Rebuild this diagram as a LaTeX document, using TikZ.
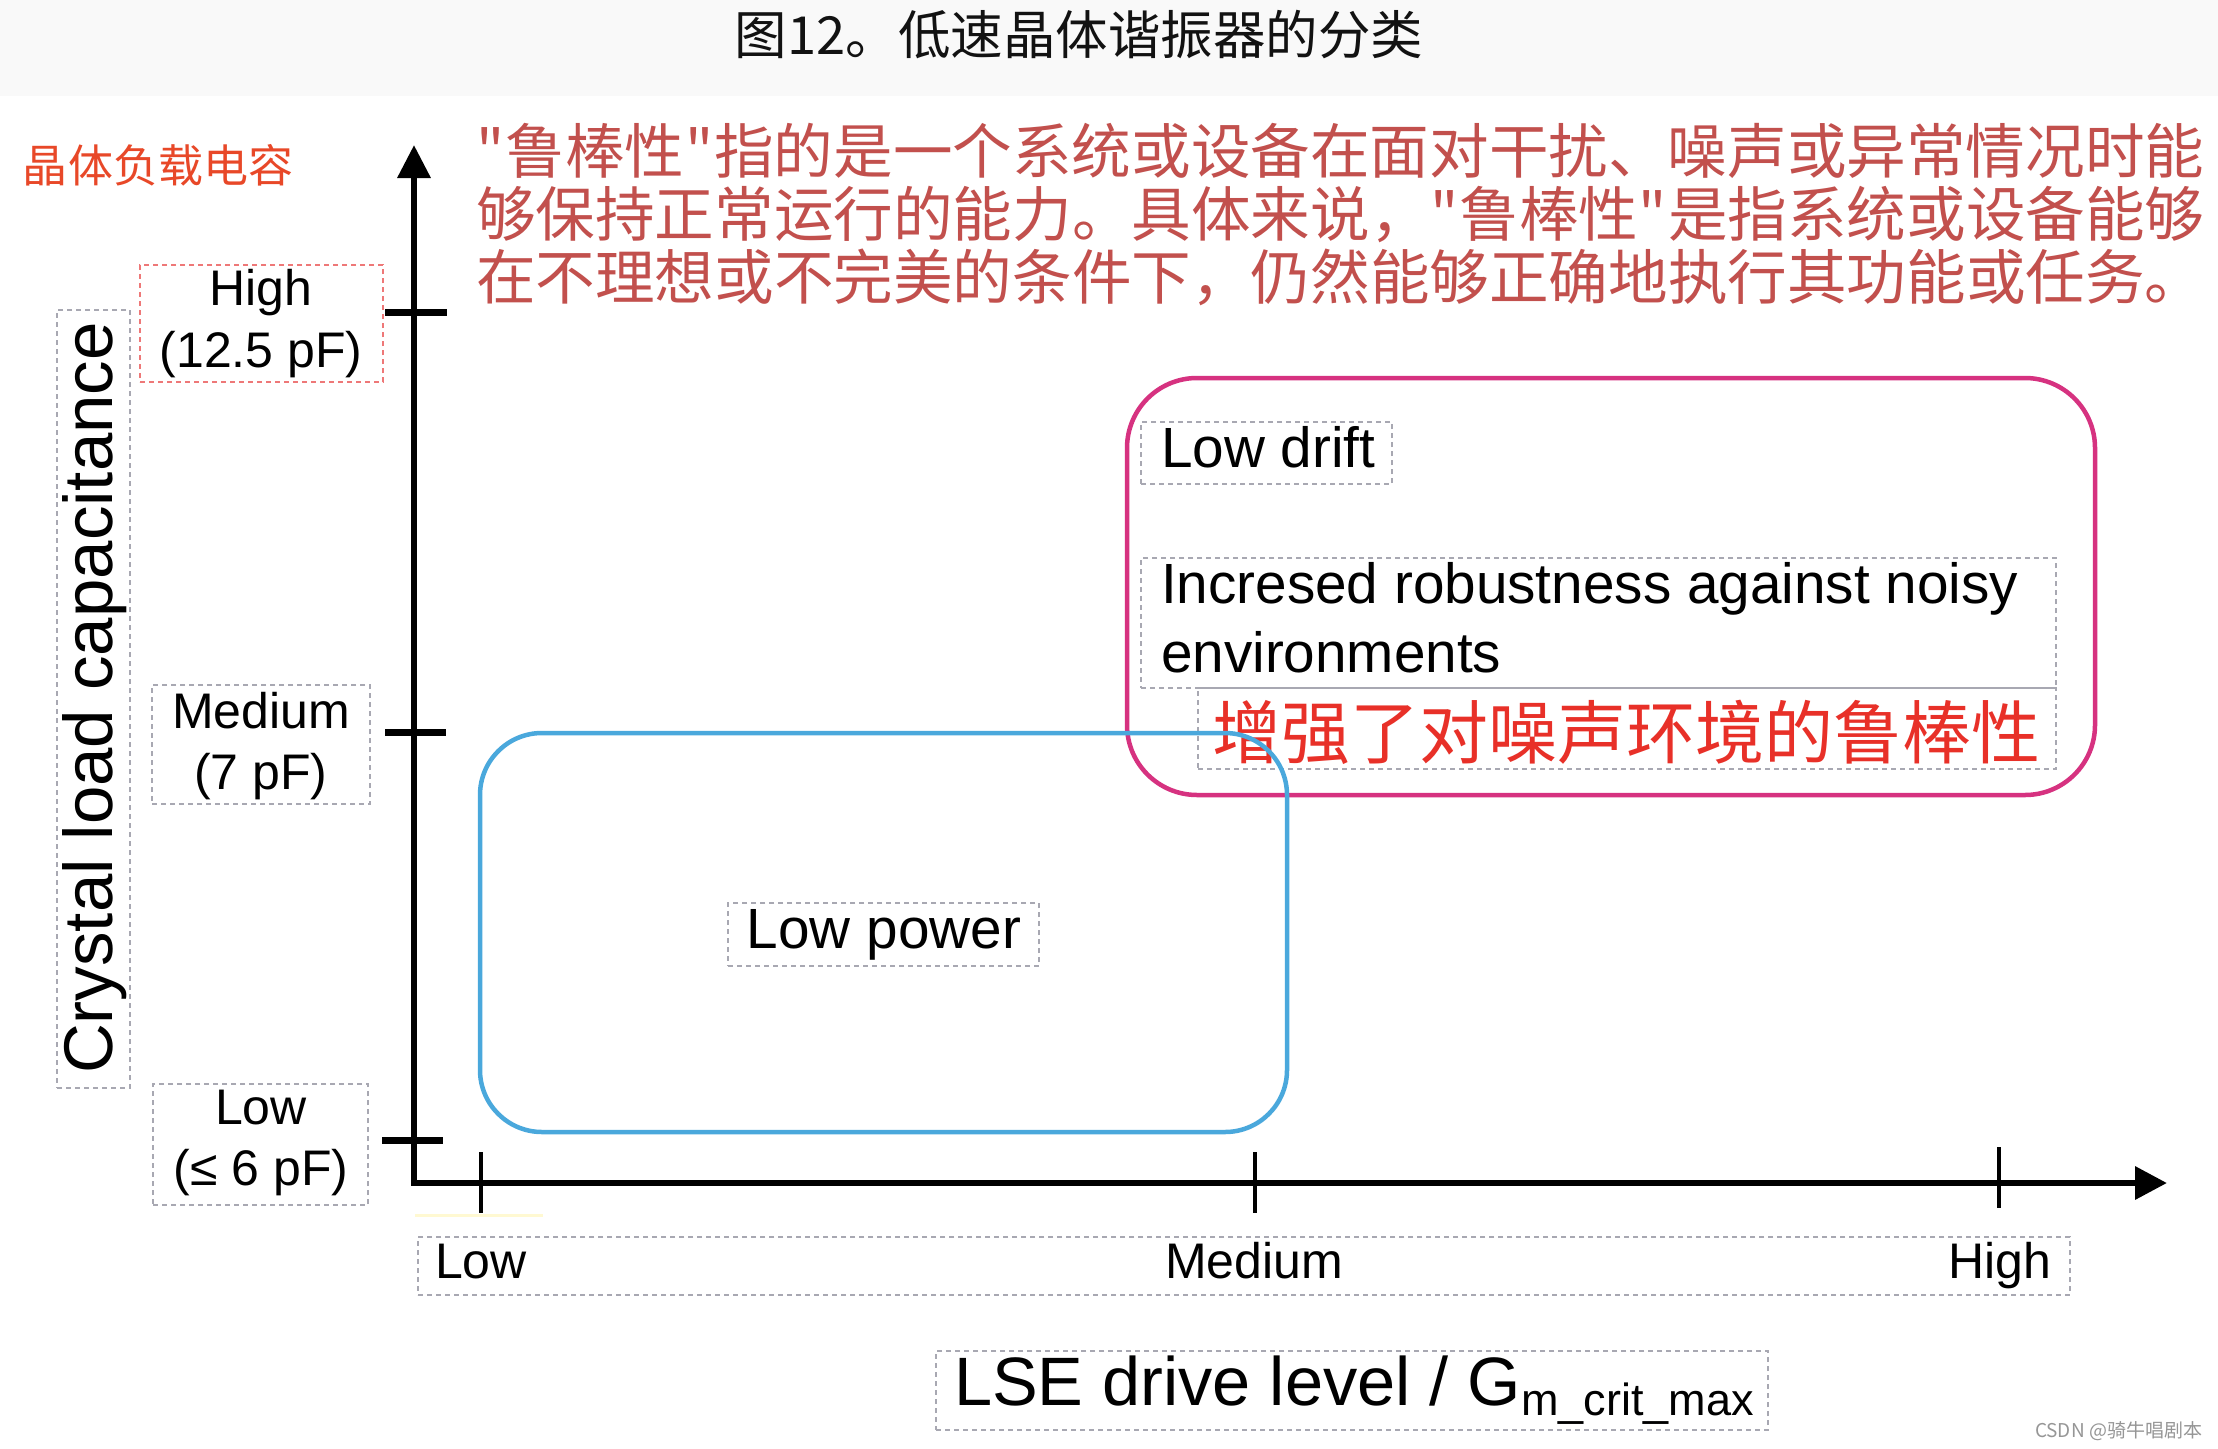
\documentclass[tikz,border=0pt]{standalone}
\usepackage{fontspec}
\setmainfont{Liberation Sans}
\newfontfamily\cjk{Noto Sans CJK SC}
\usetikzlibrary{arrows.meta}
\definecolor{bargray}{RGB}{249,249,249}
\definecolor{boxgray}{RGB}{168,168,178}
\definecolor{boxred}{RGB}{238,120,120}
\definecolor{paratext}{RGB}{194,80,77}
\definecolor{cnred}{RGB}{232,48,40}
\definecolor{axred}{RGB}{232,72,40}
\definecolor{pinkline}{RGB}{214,50,128}
\definecolor{blueline}{RGB}{74,168,220}
\definecolor{wmgray}{RGB}{150,150,150}
\definecolor{faintyellow}{RGB}{255,249,210}
\newcommand\fsz[2]{\fontsize{#1pt}{#2pt}\selectfont}
\newcommand\hq{\makebox[0.5em][c]{"}}
\begin{document}
\begin{tikzpicture}[x=1pt,y=-1pt,
  txt/.style={inner sep=0pt, outer sep=0pt},
  lbox/.style={draw=boxgray, line width=1.5pt, dash pattern=on 5pt off 4pt, inner sep=0pt, outer sep=0pt},
  rbox/.style={lbox, draw=boxred},
  region/.style={line width=4.5pt, inner sep=0pt, outer sep=0pt},
  ytick/.style={line width=7pt},
  xtick/.style={line width=4.5pt}]
\useasboundingbox (0,0) rectangle (2218,1448);
\fill[white] (0,0) rectangle (2218,1448);
\fill[bargray] (0,0) rectangle (2218,96);

% title
\node[txt, anchor=base, text=black!93] (title) at (1079,54) {\cjk\fsz{52.5}{60}图12。低速晶体谐振器的分类};

% red axis caption
\node[txt, anchor=base west, text=axred] (cncap) at (23,182) {\cjk\fsz{45}{50}晶体负载电容};

% paragraph
\node[txt, anchor=base west, text=paratext] (p1) at (476,173.5) {\cjk\fsz{59.6}{64}\hq{}鲁棒性\hq{}指的是一个系统或设备在面对干扰、噪声或异常情况时能};
\node[txt, anchor=base west, text=paratext] (p2) at (476,236.5) {\cjk\fsz{59.6}{64}够保持正常运行的能力。具体来说，\hq{}鲁棒性\hq{}是指系统或设备能够};
\node[txt, anchor=base west, text=paratext] (p3) at (476,299.5) {\cjk\fsz{59.6}{64}在不理想或不完美的条件下，仍然能够正确地执行其功能或任务。};

% axes
\coordinate (origin) at (414,1183);
\coordinate (ytop) at (414,145);
\coordinate (xend) at (2167,1183);
\draw[line width=6.5pt, line join=miter, {Triangle[length=33pt,width=32pt]}-{Triangle[length=32pt,width=32pt]}] (ytop) -- (origin) -- (xend);

% ticks
\draw[ytick] (385,312) -- (447,312);
\draw[ytick] (385,732) -- (446,732);
\draw[ytick] (382,1140) -- (443,1140);
\draw[xtick] (481,1152) -- (481,1213);
\draw[xtick] (1255,1152) -- (1255,1213);
\draw[xtick] (1999,1147) -- (1999,1208);
\draw[faintyellow, line width=3pt] (415,1215) -- (543,1215);

% y axis title
\node[lbox, minimum width=73pt, minimum height=778pt] (ybox) at (93.5,699) {};
\node[txt, rotate=90, anchor=base] (ytitle) at (112,698) {\fsz{69}{80}Crystal load capacitance};

% y labels
\node[rbox, minimum width=243pt, minimum height=117pt] (hibox) at (261.5,323.5) {};
\node[txt, anchor=base] (hi1) at (261,305) {\fsz{50}{60}High};
\node[txt, anchor=base] (hi2) at (261,367) {\fsz{50}{60}(12.5 pF)};
\node[lbox, minimum width=218pt, minimum height=119pt] (mebox) at (261,744.5) {};
\node[txt, anchor=base] (me1) at (261,728) {\fsz{50}{60}Medium};
\node[txt, anchor=base] (me2) at (261,789) {\fsz{50}{60}(7 pF)};
\node[lbox, minimum width=215pt, minimum height=121pt] (lobox) at (260.5,1144.5) {};
\node[txt, anchor=base] (lo1) at (261,1124) {\fsz{50}{60}Low};
\node[txt, anchor=base] (lo2) at (261,1185) {\fsz{50}{60}(≤ 6 pF)};

% x labels
\node[lbox, minimum width=1652pt, minimum height=58pt] (xlbox) at (1244,1266) {};
\node[txt, anchor=base] (xl1) at (481,1278) {\fsz{50}{60}Low};
\node[txt, anchor=base] (xl2) at (1254,1278) {\fsz{50}{60}Medium};
\node[txt, anchor=base] (xl3) at (2000,1278) {\fsz{50}{60}High};

% x axis title
\node[lbox, minimum width=832pt, minimum height=79pt] (xtbox) at (1352,1390.5) {};
\node[txt, anchor=base west] (xtitle) at (954,1405) {\fsz{68.5}{80}LSE drive level / G\raisebox{-10pt}{\fsz{45}{50}m\_crit\_max}};

% pink region
\node[region, draw=pinkline, rounded corners=70pt, minimum width=968pt, minimum height=417pt] (robust) at (1611,586.5) {};
\node[lbox, minimum width=251pt, minimum height=62pt] (ldbox) at (1266.5,453) {};
\node[txt, anchor=base west] (ld) at (1161,467) {\fsz{56.7}{68}Low drift};
\node[lbox, minimum width=915pt, minimum height=130pt] (inbox) at (1598.5,623) {};
\node[txt, anchor=base west] (in1) at (1161,603) {\fsz{56.7}{68}Incresed robustness against noisy};
\node[txt, anchor=base west] (in2) at (1161,672) {\fsz{56.7}{68}environments};
\node[lbox, minimum width=858pt, minimum height=81pt] (cnbox) at (1627,728.5) {};
\node[txt, anchor=base, text=cnred] (cn) at (1626,758) {\cjk\fsz{69}{80}增强了对噪声环境的鲁棒性};

% low power region
\node[lbox, minimum width=311pt, minimum height=63pt] (lpbox) at (883.5,934.5) {};
\node[txt, anchor=base] (lp) at (884,948) {\fsz{56.7}{68}Low power};
\node[region, draw=blueline, rounded corners=62pt, minimum width=807pt, minimum height=399pt] (lowpow) at (883.5,932.5) {};

% watermark
\node[txt, anchor=base east, text=wmgray] (wm) at (2202,1437) {\cjk\fsz{19}{22}CSDN @骑牛唱剧本};
\end{tikzpicture}
\end{document}
